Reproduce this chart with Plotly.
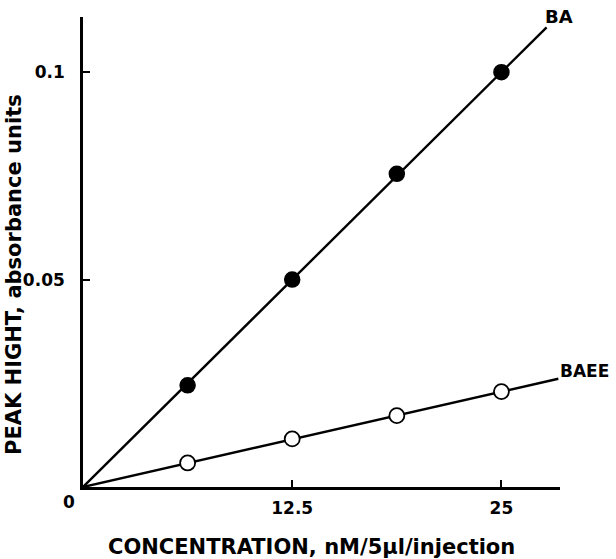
import plotly.graph_objects as go

conc = [6.25, 12.5, 18.75, 25]
ba = [0.0245, 0.05, 0.0755, 0.1]
baee = [0.0058, 0.0116, 0.0172, 0.0230]
ba_line_x = [0, 27.7]
ba_line_y = [0, 0.1108]
baee_line_x = [0, 28.4]
baee_line_y = [0, 0.0261]
x_ticks = [12.5, 25]
x_ticklabels = ["12.5", "25"]
y_ticks = [0.05, 0.1]
y_ticklabels = ["0.05", "0.1"]

FONT = "DejaVu Sans"

fig = go.Figure()
fig.add_trace(go.Scatter(x=ba_line_x, y=ba_line_y, mode="lines",
                         line=dict(color="black", width=2.4), cliponaxis=False, showlegend=False))
fig.add_trace(go.Scatter(x=baee_line_x, y=baee_line_y, mode="lines",
                         line=dict(color="black", width=2.4), cliponaxis=False, showlegend=False))
fig.add_trace(go.Scatter(x=conc, y=ba, mode="markers",
                         marker=dict(size=15, color="black", line=dict(color="black", width=1.5)),
                         showlegend=False))
fig.add_trace(go.Scatter(x=conc, y=baee, mode="markers",
                         marker=dict(size=15, color="white", line=dict(color="black", width=1.8)),
                         showlegend=False))

fig.update_layout(
    width=616, height=559,
    margin=dict(l=83, r=56, t=17, b=72),
    paper_bgcolor="white", plot_bgcolor="white",
    font=dict(family=FONT, color="black"),
    xaxis=dict(range=[0, 28.5], showgrid=False, zeroline=False,
               showline=True, linecolor="black", linewidth=2.6,
               ticks="inside", ticklen=7, tickwidth=2, tickcolor="black",
               tickvals=x_ticks, ticktext=["<b>%s</b>" % t for t in x_ticklabels],
               ticklabelstandoff=4,
               tickfont=dict(size=17, family=FONT)),
    yaxis=dict(range=[0, 0.1133], showgrid=False, zeroline=False,
               showline=True, linecolor="black", linewidth=2.6,
               ticks="inside", ticklen=7, tickwidth=2, tickcolor="black",
               tickvals=y_ticks, ticktext=["<b>%s</b>" % t for t in y_ticklabels],
               ticklabelstandoff=12,
               tickfont=dict(size=17, family=FONT)),
    annotations=[
        dict(x=0, y=0, xref="x", yref="y", text="<b>0</b>", showarrow=False,
             xanchor="right", yanchor="top", xshift=-6, yshift=-3, font=dict(size=17)),
        dict(x=ba_line_x[1], y=ba_line_y[1], xref="x", yref="y", text="<b>BA</b>", showarrow=False,
             xanchor="left", yanchor="bottom", xshift=-4, yshift=-2, font=dict(size=18)),
        dict(x=baee_line_x[1], y=baee_line_y[1], xref="x", yref="y", text="<b>BAEE</b>", showarrow=False,
             xanchor="left", yanchor="middle", xshift=0, yshift=8, font=dict(size=17)),
        dict(x=0.5, y=0, xref="paper", yref="paper", text="<b>CONCENTRATION, nM/5µl/injection</b>",
             showarrow=False, xanchor="center", yanchor="middle", xshift=-10, yshift=-60,
             font=dict(size=21)),
        dict(x=0, y=0.5, xref="paper", yref="paper", text="<b>PEAK HIGHT, absorbance units</b>",
             showarrow=False, textangle=-90, xanchor="center", yanchor="middle", xshift=-69, yshift=-23,
             font=dict(size=21)),
    ],
)
fig.write_html("out.html", config={"displayModeBar": False},
               post_script="document.body.style.margin='0px';")
